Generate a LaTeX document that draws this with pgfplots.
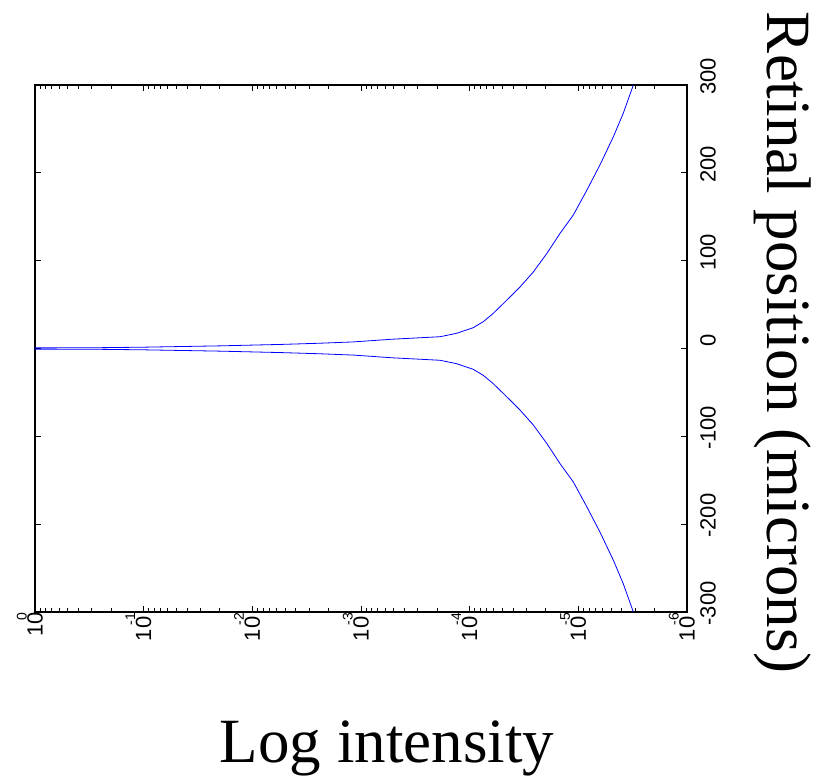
\documentclass[border=0pt]{standalone}
\usepackage{fontspec}
\setmainfont{Liberation Serif}
\setsansfont{Liberation Sans}
\usepackage{pgfplots}
\pgfplotsset{compat=1.18}

% tick label "10^e" set the way MATLAB draws it
\newcommand{\etick}[1]{10\kern-9pt\smash{\raisebox{16pt}{\fontsize{14}{14}\selectfont #1}}}

\pgfplotstableread{
x y
1 0.7
3.162e-1 0.8
1e-1 1.5
1.995e-2 3.0
5.248e-3 4.7
2.399e-3 6.0
1.175e-3 7.5
5.129e-4 10.6
1.875e-4 13.4
1.318e-4 17.3
9.268e-5 23.7
7.499e-5 30.5
6.067e-5 40
4.560e-5 55
3.443e-5 70
2.600e-5 87
1.954e-5 108
1.476e-5 131
1.112e-5 152
8.375e-6 180
6.324e-6 209
4.764e-6 241
3.855e-6 268
3.119e-6 300
}\uppertab

\pgfplotstableread{
x y
1 -0.7
3.162e-1 -0.8
1e-1 -1.5
1.995e-2 -3.0
5.248e-3 -4.7
2.399e-3 -6.0
1.175e-3 -7.5
5.129e-4 -10.6
1.875e-4 -13.4
1.318e-4 -17.3
9.268e-5 -23.7
7.499e-5 -30.5
6.067e-5 -40
4.560e-5 -55
3.443e-5 -70
2.600e-5 -87
1.954e-5 -108
1.476e-5 -131
1.112e-5 -152
8.375e-6 -180
6.324e-6 -209
4.764e-6 -241
3.855e-6 -268
3.119e-6 -300
}\lowertab

\begin{document}
\begin{tikzpicture}
\begin{axis}[
  scale only axis,
  width=652pt, height=527pt,
  xmode=log, x dir=reverse,
  xmin=1e-6, xmax=1,
  ymin=-300, ymax=300,
  xtick={1,1e-1,1e-2,1e-3,1e-4,1e-5,1e-6},
  xticklabels={\etick{0},\etick{-1},\etick{-2},\etick{-3},\etick{-4},\etick{-5},\etick{-6}},
  minor xtick={2e-6,3e-6,4e-6,5e-6,6e-6,7e-6,8e-6,9e-6,
               2e-5,3e-5,4e-5,5e-5,6e-5,7e-5,8e-5,9e-5,
               2e-4,3e-4,4e-4,5e-4,6e-4,7e-4,8e-4,9e-4,
               2e-3,3e-3,4e-3,5e-3,6e-3,7e-3,8e-3,9e-3,
               2e-2,3e-2,4e-2,5e-2,6e-2,7e-2,8e-2,9e-2,
               2e-1,3e-1,4e-1,5e-1,6e-1,7e-1,8e-1,9e-1},
  ytick={-300,-200,-100,0,100,200,300},
  yticklabels={-300,-200,-100,0,100,200,300},
  xtick pos=both, ytick pos=both,
  xticklabel pos=bottom, yticklabel pos=right,
  tick align=inside,
  major tick length=6.5pt, minor tick length=4pt,
  every tick/.style={black, line width=0.7pt},
  axis line style={black, line width=1.2pt},
  xticklabel style={rotate=90, anchor=east, inner sep=0pt, font=\sffamily\fontsize{22}{24}\selectfont},
  yticklabel style={yshift=8.5pt, rotate=90, anchor=north, inner sep=0pt, font=\sffamily\fontsize{22}{24}\selectfont},
  xticklabel shift=1pt, yticklabel shift=13pt,
  xlabel={Log intensity},
  ylabel={Retinal position (microns)},
  every axis x label/.style={at={(axis description cs:0.54,0)}, anchor=base, yshift=-150pt, inner sep=0pt, font=\fontsize{63}{70}\selectfont},
  every axis y label/.style={at={(axis description cs:1.124,0.511)}, rotate=-90, anchor=base, inner sep=0pt, font=\fontsize{63}{70}\selectfont},
]
\addplot[blue, line width=0.8pt] table[x=x, y=y] {\uppertab};
\addplot[blue, line width=0.8pt] table[x=x, y=y] {\lowertab};
\end{axis}
\pgfresetboundingbox
\path[use as bounding box] (-35pt,-166pt) rectangle (799pt,612pt);
\end{tikzpicture}
\end{document}
